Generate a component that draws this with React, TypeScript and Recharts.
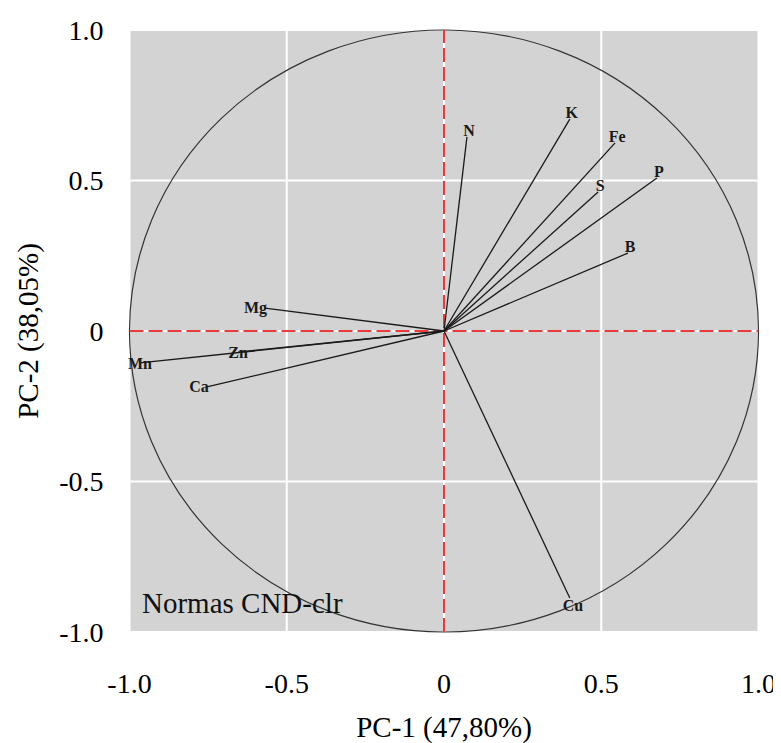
import * as R from "recharts";

const { ScatterChart, Scatter, XAxis, YAxis, CartesianGrid, ReferenceLine, Label } = R as any;

// loadings
const variables = ["N", "K", "Fe", "S", "P", "B", "Mg", "Zn", "Mn", "Ca", "Cu"];
const pc1 = [0.073, 0.4, 0.544, 0.49, 0.677, 0.585, -0.569, -0.655, -0.967, -0.754, 0.4];
const pc2 = [0.645, 0.704, 0.625, 0.462, 0.508, 0.259, 0.076, -0.07, -0.106, -0.186, -0.887];
const axisTicks = [-1, -0.5, 0, 0.5, 1];

// where each name sits relative to the arrow tip
const labelSide: Record<string, string> = {
  N: "top", K: "top", Fe: "top", S: "top", P: "top", B: "top",
  Mg: "left", Zn: "center", Mn: "center", Ca: "left", Cu: "bottom",
};

const SERIF = "'Liberation Serif', 'Times New Roman', serif";

const points = variables.map((name, i) => ({ name, x: pc1[i], y: pc2[i] }));

const fmt = (v: number) => (v === 0 ? "0" : v.toFixed(1));

function Overlay() {
  const hook = (R as any).usePlotArea;
  const area = hook ? hook() : undefined;
  if (!area) return null;
  return (
    <g>
      <ellipse
        cx={area.x + area.width / 2}
        cy={area.y + area.height / 2}
        rx={area.width / 2}
        ry={area.height / 2}
        fill="none"
        stroke="#333"
        strokeWidth={1.2}
      />
      <text
        x={area.x + 12.5}
        y={area.y + area.height - 19}
        fontFamily={SERIF}
        fontSize={29}
        fill="#111"
      >
        Normas CND-clr
      </text>
    </g>
  );
}

// eslint-disable-next-line @typescript-eslint/no-explicit-any
const renderName = (props: any) => {
  const { cx, cy, payload } = props;
  const side = labelSide[payload.name];
  let x = cx;
  let y = cy;
  let anchor = "middle";
  if (side === "top") {
    x = cx + 2;
    y = cy - 1;
  } else if (side === "left") {
    x = cx + 2;
    y = cy + 5;
    anchor = "end";
  } else if (side === "center") {
    y = cy + 6;
  } else {
    x = cx - 7;
    y = cy + 13;
    anchor = "start";
  }
  return (
    <text x={x} y={y} textAnchor={anchor} fontFamily={SERIF} fontWeight="bold" fontSize={16} fill="#1a1a1a">
      {payload.name}
    </text>
  );
};

export default function App() {
  return (
    <ScatterChart width={773} height={735} margin={{ top: 22, right: 22.5, left: 0, bottom: 0 }}>
      <CartesianGrid fill="#d3d3d3" stroke="#ffffff" strokeWidth={2} />
      <XAxis
        type="number"
        dataKey="x"
        domain={[-1, 1]}
        ticks={axisTicks}
        tickFormatter={fmt}
        axisLine={false}
        tickLine={false}
        tickSize={0}
        tickMargin={41}
        height={111}
        tick={{ fill: "#000", fontSize: 28, fontFamily: SERIF }}
      >
        <Label
          content={({ viewBox }: any) => (
            <text
              x={viewBox.x + viewBox.width / 2}
              y={viewBox.y + 105}
              textAnchor="middle"
              fontFamily={SERIF}
              fontSize={29}
              fill="#000"
            >
              PC-1 (47,80%)
            </text>
          )}
        />
      </XAxis>
      <YAxis
        type="number"
        dataKey="y"
        domain={[-1, 1]}
        ticks={axisTicks}
        tickFormatter={fmt}
        axisLine={false}
        tickLine={false}
        tickSize={0}
        tickMargin={26}
        width={121.5}
        tick={{ fill: "#000", fontSize: 28, fontFamily: SERIF }}
      >
        <Label
          content={({ viewBox }: any) => {
            const cx = viewBox.x + 20;
            const cy = viewBox.y + viewBox.height / 2;
            return (
              <text
                x={cx}
                y={cy}
                transform={`rotate(-90, ${cx}, ${cy})`}
                textAnchor="middle"
                dominantBaseline="central"
                fontFamily={SERIF}
                fontSize={29}
                fill="#000"
              >
                PC-2 (38,05%)
              </text>
            );
          }}
        />
      </YAxis>
      <ReferenceLine x={0} stroke="#ea3a3a" strokeWidth={2} strokeDasharray="14 5" />
      <ReferenceLine y={0} stroke="#ea3a3a" strokeWidth={2} strokeDasharray="14 5" />
      {points.map((p) => (
        <ReferenceLine
          key={p.name}
          segment={[{ x: 0, y: 0 }, { x: p.x, y: p.y }]}
          stroke="#1a1a1a"
          strokeWidth={1.3}
        />
      ))}
      <Overlay />
      <Scatter data={points} shape={renderName} isAnimationActive={false} />
    </ScatterChart>
  );
}
